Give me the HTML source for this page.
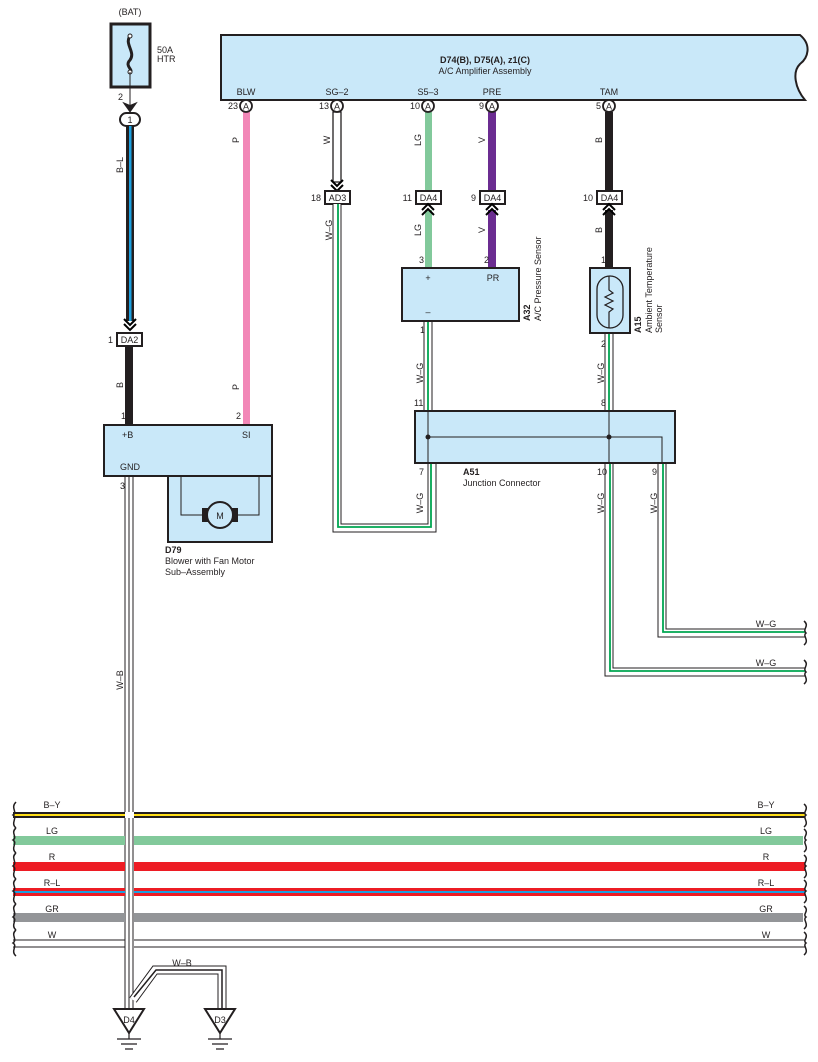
<!DOCTYPE html>
<html><head><meta charset="utf-8"><style>
html,body{margin:0;padding:0;background:#fff;}
svg{display:block;font-family:"Liberation Sans",Arial,sans-serif;}
</style></head><body>
<svg width="818" height="1062" viewBox="0 0 818 1062" xmlns="http://www.w3.org/2000/svg">
<defs>
<g id="chev"><path d="M-6,-4 L0,2 L6,-4" fill="none" stroke="#000" stroke-width="2"/><path d="M-6,1 L0,7 L6,1" fill="none" stroke="#000" stroke-width="2"/></g>
<g id="chevup"><path d="M-6,4 L0,-2 L6,4" fill="none" stroke="#000" stroke-width="2"/><path d="M-6,-1 L0,-7 L6,-1" fill="none" stroke="#000" stroke-width="2"/></g>
</defs>
<style>
.t{font-size:9px;fill:#231f20}
.b{font-weight:bold}
.dw1{fill:none;stroke:#231f20;stroke-width:9}
.dw2{fill:none;stroke:#fff;stroke-width:7}
.dw3{fill:none;stroke:#00a651;stroke-width:1.8}
</style>

<!-- Fuse -->
<text x="130" y="15" class="t" text-anchor="middle">(BAT)</text>
<rect x="111" y="24" width="39" height="63" fill="#c9e8f9" stroke="#231f20" stroke-width="3"/>
<path d="M130,36 C124,44 136,52 130,60 C124,66 134,70 130,72" fill="none" stroke="#231f20" stroke-width="3"/>
<circle cx="130" cy="36" r="2" fill="#fff" stroke="#231f20"/><circle cx="130" cy="72" r="2" fill="#fff" stroke="#231f20"/>
<text x="157" y="53" class="t">50A</text><text x="157" y="62" class="t">HTR</text>
<line x1="130" y1="72" x2="130" y2="110" stroke="#231f20" stroke-width="1"/>
<text x="118" y="100" class="t" fill="#231f20">2</text>
<path d="M125,104 L130,111 L135,104 L130,106Z" fill="#231f20" stroke="#231f20" stroke-width="2"/>
<rect x="120" y="113" width="20" height="13" rx="6.5" fill="#fff" stroke="#231f20" stroke-width="2"/>
<text x="130" y="123" class="t" text-anchor="middle">1</text>
<!-- B-L -->
<rect x="126" y="126" width="8" height="195" fill="#231f20"/><rect x="129" y="126" width="2.5" height="195" fill="#1ca0e0"/>
<text class="t" transform="translate(123,165) rotate(-90)" text-anchor="middle">B–L</text>
<use href="#chev" x="130" y="323"/>
<text x="108" y="343" class="t" fill="#a0522d">1</text>
<rect x="117" y="333" width="25" height="13" fill="#fff" stroke="#231f20" stroke-width="2"/>
<text x="129.5" y="343" class="t" text-anchor="middle">DA2</text>
<rect x="125" y="346" width="8" height="79" fill="#231f20"/>
<text class="t" transform="translate(123,385) rotate(-90)" text-anchor="middle">B</text>
<text x="121" y="419" class="t">1</text>

<!-- Amplifier -->
<path d="M221,35 L800,35 C812,45 808,58 800,64 C792,72 795,88 805,100 L221,100Z" fill="#c9e8f9" stroke="#231f20" stroke-width="2"/>
<text x="485" y="63" class="t b" text-anchor="middle">D74(B), D75(A), z1(C)</text>
<text x="485" y="74" class="t" text-anchor="middle">A/C Amplifier Assembly</text>
<g class="t" text-anchor="middle">
<text x="246" y="95">BLW</text><text x="337" y="95">SG–2</text><text x="428" y="95">S5–3</text><text x="492" y="95">PRE</text><text x="609" y="95">TAM</text>
</g>

<!-- wires from amp -->
<rect x="243" y="112" width="7" height="313" fill="#f287b7"/>
<text class="t" transform="translate(239,140) rotate(-90)" text-anchor="middle">P</text>
<text class="t" transform="translate(239,387) rotate(-90)" text-anchor="middle">P</text>
<text x="236" y="419" class="t">2</text>
<rect x="333" y="112" width="8" height="70" fill="#fff" stroke="#231f20" stroke-width="1.3"/>
<text class="t" transform="translate(330,140) rotate(-90)" text-anchor="middle">W</text>
<use href="#chev" x="337" y="184"/>
<rect x="425" y="112" width="7" height="78" fill="#82c99b"/>
<text class="t" transform="translate(421,140) rotate(-90)" text-anchor="middle">LG</text>
<rect x="488" y="112" width="8" height="78" fill="#6b2c91"/>
<text class="t" transform="translate(485,140) rotate(-90)" text-anchor="middle">V</text>
<rect x="605" y="112" width="8" height="78" fill="#231f20"/>
<text class="t" transform="translate(602,140) rotate(-90)" text-anchor="middle">B</text>
<g class="t" text-anchor="end">
<text x="238" y="109">23</text><text x="329" y="109">13</text><text x="420" y="109">10</text><text x="484" y="109">9</text><text x="601" y="109">5</text>
</g>
<g fill="#fff" stroke="#231f20" stroke-width="1.8">
<circle cx="246" cy="106" r="6"/><circle cx="337" cy="106" r="6"/><circle cx="428" cy="106" r="6"/><circle cx="492" cy="106" r="6"/><circle cx="609" cy="106" r="6"/>
</g>
<g class="t" text-anchor="middle">
<text x="246" y="109.5">A</text><text x="337" y="109.5">A</text><text x="428" y="109.5">A</text><text x="492" y="109.5">A</text><text x="609" y="109.5">A</text>
</g>

<!-- connectors row -->
<g fill="#fff" stroke="#231f20" stroke-width="2">
<rect x="325" y="191" width="25" height="13"/><rect x="416" y="191" width="25" height="13"/><rect x="480" y="191" width="25" height="13"/><rect x="597" y="191" width="25" height="13"/>
</g>
<g class="t" text-anchor="middle">
<text x="337.5" y="201">AD3</text><text x="428.5" y="201">DA4</text><text x="492.5" y="201">DA4</text><text x="609.5" y="201">DA4</text>
</g>
<g class="t" text-anchor="end">
<text x="321" y="201">18</text><text x="412" y="201">11</text><text x="476" y="201">9</text><text x="593" y="201">10</text>
</g>
<rect x="425" y="210" width="7" height="58" fill="#82c99b"/>
<rect x="488" y="210" width="8" height="58" fill="#6b2c91"/>
<rect x="605" y="210" width="8" height="58" fill="#231f20"/>
<use href="#chevup" x="428" y="211"/><use href="#chevup" x="492" y="211"/><use href="#chevup" x="609" y="211"/>
<text class="t" transform="translate(421,230) rotate(-90)" text-anchor="middle">LG</text>
<text class="t" transform="translate(485,230) rotate(-90)" text-anchor="middle">V</text>
<text class="t" transform="translate(602,230) rotate(-90)" text-anchor="middle">B</text>
<text x="419" y="263" class="t">3</text><text x="484" y="263" class="t">2</text><text x="601" y="263" class="t">1</text>

<!-- double wires W-G -->
<g>
<path class="dw1" d="M337,204 V528 H432 V463"/><path class="dw2" d="M337,204 V528 H432 V463"/><path class="dw3" d="M338,204 V527 H431 V463"/>
<path class="dw1" d="M428,321 V411"/><path class="dw2" d="M428,321 V411"/><path class="dw3" d="M428,321 V411"/>
<path class="dw1" d="M609,333 V411"/><path class="dw2" d="M609,333 V411"/><path class="dw3" d="M609,333 V411"/>
<path class="dw1" d="M609,463 V672 H805"/><path class="dw2" d="M609,463 V672 H805"/><path class="dw3" d="M610,463 V671 H805"/>
<path class="dw1" d="M662,463 V633 H805"/><path class="dw2" d="M662,463 V633 H805"/><path class="dw3" d="M663,463 V632 H805"/>
<path class="dw1" d="M129,476 V1010"/><path class="dw2" d="M129,476 V1010"/>
<path class="dw1" d="M133,1000 L155,970 H222 V1010"/><path class="dw2" d="M133,1000 L155,970 H222 V1010"/>
<line x1="129" y1="476" x2="129" y2="1010" stroke="#231f20" stroke-width="1"/>
<path d="M134,997 L156,970 H222 V1010" fill="none" stroke="#231f20" stroke-width="1.5"/>
</g>
<text class="t" transform="translate(332,230) rotate(-90)" text-anchor="middle">W–G</text>
<text class="t" transform="translate(423,373) rotate(-90)" text-anchor="middle">W–G</text>
<text class="t" transform="translate(604,373) rotate(-90)" text-anchor="middle">W–G</text>
<text class="t" transform="translate(423,503) rotate(-90)" text-anchor="middle">W–G</text>
<text class="t" transform="translate(604,503) rotate(-90)" text-anchor="middle">W–G</text>
<text class="t" transform="translate(657,503) rotate(-90)" text-anchor="middle">W–G</text>
<text class="t" transform="translate(123,680) rotate(-90)" text-anchor="middle">W–B</text>
<text x="766" y="627" class="t" text-anchor="middle">W–G</text>
<text x="766" y="666" class="t" text-anchor="middle">W–G</text>
<text x="182" y="966" class="t" text-anchor="middle">W–B</text>
<text x="420" y="333" class="t">1</text><text x="601" y="347" class="t">2</text>
<text x="414" y="406" class="t">11</text><text x="601" y="406" class="t">8</text>
<text x="419" y="475" class="t">7</text><text x="597" y="475" class="t">10</text><text x="652" y="475" class="t">9</text>
<text x="120" y="489" class="t">3</text>

<!-- A32 -->
<rect x="402" y="268" width="117" height="53" fill="#c9e8f9" stroke="#231f20" stroke-width="2"/>
<text x="428" y="281" class="t" text-anchor="middle">+</text><text x="493" y="281" class="t" text-anchor="middle">PR</text>
<text x="428" y="315" class="t" text-anchor="middle">–</text>
<text class="t b" transform="translate(530,321) rotate(-90)">A32</text>
<text class="t" transform="translate(541,321) rotate(-90)">A/C Pressure Sensor</text>
<!-- A15 -->
<rect x="590" y="268" width="40" height="65" fill="#c9e8f9" stroke="#231f20" stroke-width="2"/>
<rect x="597" y="276" width="26" height="52" rx="13" fill="none" stroke="#231f20" stroke-width="1.3"/>
<path d="M609,276 V290 L613,293 L605,297 L613,301 L605,305 L613,309 L609,312 V328" fill="none" stroke="#231f20" stroke-width="1.2"/>
<text class="t b" transform="translate(641,333) rotate(-90)">A15</text>
<text class="t" transform="translate(652,333) rotate(-90)">Ambient Temperature</text>
<text class="t" transform="translate(662,333) rotate(-90)">Sensor</text>

<!-- A51 -->
<rect x="415" y="411" width="260" height="52" fill="#c9e8f9" stroke="#231f20" stroke-width="2"/>
<path d="M428,411 V463 M609,411 V463 M428,437 H662 V463" fill="none" stroke="#231f20" stroke-width="1"/>
<circle cx="428" cy="437" r="2.5" fill="#231f20"/><circle cx="609" cy="437" r="2.5" fill="#231f20"/>
<text x="463" y="475" class="t b">A51</text>
<text x="463" y="486" class="t">Junction Connector</text>

<!-- D79 -->
<rect x="104" y="425" width="168" height="51" fill="#c9e8f9" stroke="#231f20" stroke-width="2"/>
<text x="122" y="438" class="t">+B</text><text x="242" y="438" class="t">SI</text><text x="120" y="470" class="t">GND</text>
<rect x="168" y="476" width="104" height="66" fill="#c9e8f9" stroke="#231f20" stroke-width="2"/>
<path d="M181,476 V515 H259 V476" fill="none" stroke="#231f20" stroke-width="1"/>
<rect x="202" y="508" width="6" height="14" fill="#231f20"/><rect x="232" y="508" width="6" height="14" fill="#231f20"/>
<circle cx="220" cy="515" r="13" fill="#c9e8f9" stroke="#231f20" stroke-width="2"/>
<text x="220" y="519" class="t" text-anchor="middle">M</text>
<text x="165" y="553" class="t b">D79</text>
<text x="165" y="564" class="t">Blower with Fan Motor</text>
<text x="165" y="575" class="t">Sub–Assembly</text>

<!-- bus lines -->
<g>
<rect x="13" y="812" width="112" height="6" fill="#231f20"/><rect x="134" y="812" width="671" height="6" fill="#231f20"/>
<rect x="13" y="814" width="792" height="2" fill="#ffde17"/>
<rect x="125" y="812" width="9" height="6" fill="#fff"/>
<rect x="13" y="836" width="112" height="9" fill="#82c99b"/><rect x="134" y="836" width="669" height="9" fill="#82c99b"/>
<rect x="13" y="862" width="112" height="9" fill="#ed1c24"/><rect x="134" y="862" width="671" height="9" fill="#ed1c24"/>
<rect x="13" y="888" width="112" height="8" fill="#ed1c24"/><rect x="134" y="888" width="671" height="8" fill="#ed1c24"/>
<rect x="13" y="891" width="112" height="2" fill="#1ca0e0"/><rect x="134" y="891" width="671" height="2" fill="#1ca0e0"/>
<rect x="13" y="913" width="112" height="9" fill="#939598"/><rect x="134" y="913" width="669" height="9" fill="#939598"/>
<path d="M13,940 H125 M134,940 H805 M13,947 H125 M134,947 H805" stroke="#231f20" stroke-width="1"/>
</g>
<g fill="none" stroke="#231f20" stroke-width="1.5">
<path d="M16,802 C10,808 18,812 13,815 C18,818 10,823 16,828"/>
<path d="M16,828 C10,833 18,837 13,840 C18,843 10,848 16,853"/>
<path d="M16,853 C10,858 18,862 13,866 C18,869 10,874 16,879"/>
<path d="M16,879 C10,884 18,888 13,891 C18,894 10,899 16,904"/>
<path d="M16,904 C10,909 18,913 13,917 C18,920 10,925 16,930"/>
<path d="M16,930 C10,935 18,939 13,943 C18,946 10,951 16,956"/>
<path d="M804,804 C810,809 802,812 806,815 C802,818 810,822 804,827"/>
<path d="M804,829 C810,834 802,837 806,840 C802,843 810,847 804,852"/>
<path d="M804,855 C810,860 802,863 806,866 C802,869 810,873 804,878"/>
<path d="M804,880 C810,885 802,888 806,891 C802,894 810,898 804,903"/>
<path d="M804,906 C810,911 802,914 806,917 C802,920 810,924 804,929"/>
<path d="M804,932 C810,937 802,940 806,943 C802,946 810,950 804,955"/>
<path d="M804,621 C810,626 802,629 806,633 C802,636 810,640 804,645"/>
<path d="M804,660 C810,665 802,668 806,672 C802,675 810,679 804,684"/>
</g>
<g class="t" text-anchor="middle">
<text x="52" y="808">B–Y</text><text x="52" y="834">LG</text><text x="52" y="860">R</text><text x="52" y="886">R–L</text><text x="52" y="912">GR</text><text x="52" y="938">W</text>
<text x="766" y="808">B–Y</text><text x="766" y="834">LG</text><text x="766" y="860">R</text><text x="766" y="886">R–L</text><text x="766" y="912">GR</text><text x="766" y="938">W</text>
</g>

<!-- grounds -->
<path d="M114,1009 H144 L129,1033Z" fill="#fff" stroke="#231f20" stroke-width="2"/>
<text x="129" y="1023" class="t" text-anchor="middle">D4</text>
<path d="M205,1009 H235 L220,1033Z" fill="#fff" stroke="#231f20" stroke-width="2"/>
<text x="220" y="1023" class="t" text-anchor="middle">D3</text>
<path d="M129,1033 V1039 M117,1039 H141 M121,1044 H137 M125,1049 H133 M220,1033 V1039 M208,1039 H232 M212,1044 H228 M216,1049 H224" stroke="#231f20" stroke-width="1.2"/>
</svg>
</body></html>
